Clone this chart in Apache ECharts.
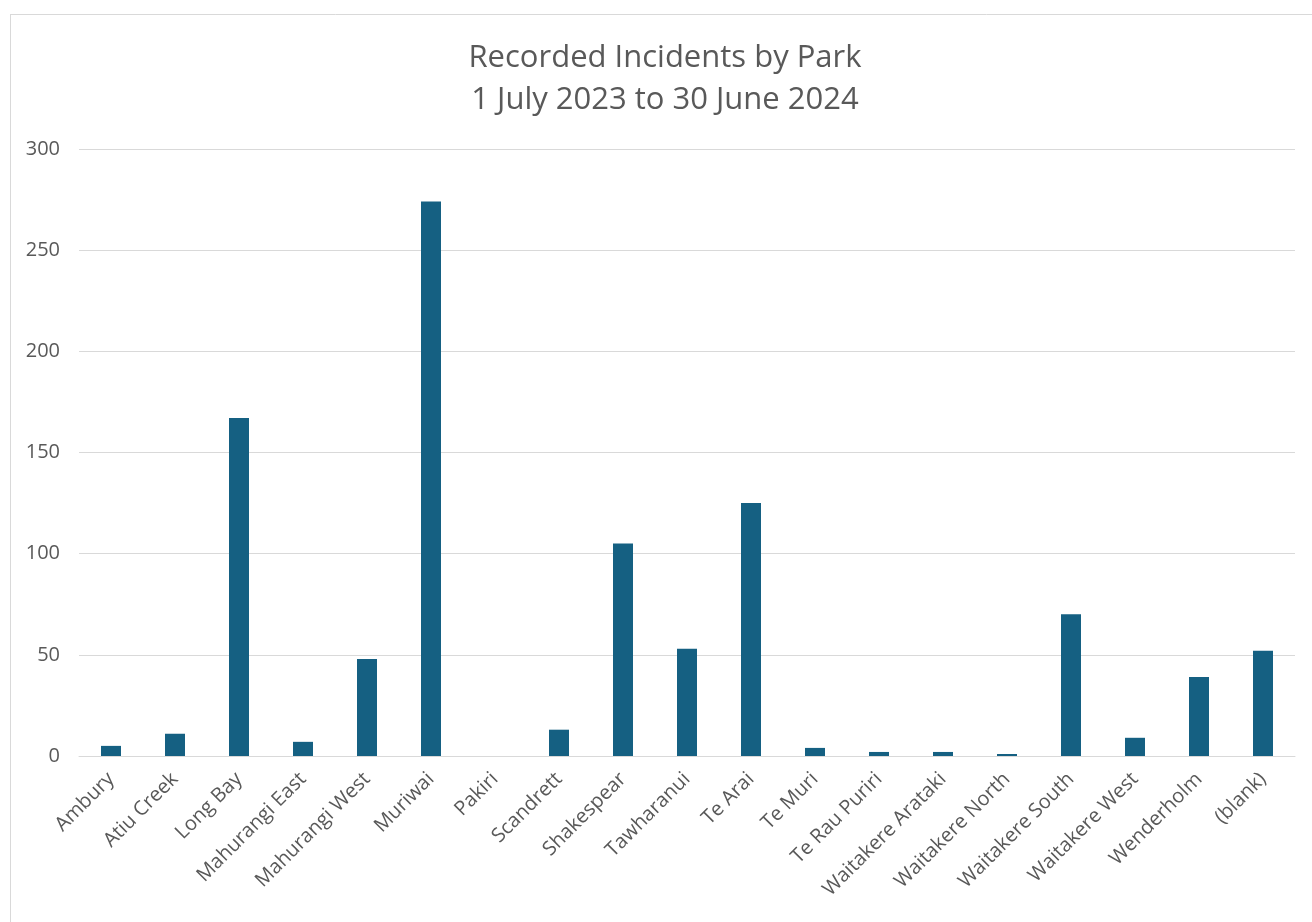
<!DOCTYPE html>
<html>
<head>
<meta charset="utf-8">
<script src="https://cdn.jsdelivr.net/npm/echarts@6/dist/echarts.min.js"></script>
<style>
html,body{margin:0;padding:0;background:#fff;}
#chart{width:1312px;height:922px;}
</style>
</head>
<body>
<div id="chart"></div>
<script>
const categories = ['Ambury','Atiu Creek','Long Bay','Mahurangi East','Mahurangi West','Muriwai','Pakiri','Scandrett','Shakespear','Tawharanui','Te Arai','Te Muri','Te Rau Puriri','Waitakere Arataki','Waitakere North','Waitakere South','Waitakere West','Wenderholm','(blank)'];
const incidents = [5, 11, 167, 7, 48, 274, 0, 13, 105, 53, 125, 4, 2, 2, 1, 70, 9, 39, 52];
const yTicks = [0, 50, 100, 150, 200, 250, 300];

const FONT = "'Open Sans', 'Liberation Sans', sans-serif";
const TEXT = '#595959';

const chart = echarts.init(document.getElementById('chart'), null, {renderer: 'canvas'});
chart.setOption({
  animation: false,
  backgroundColor: '#ffffff',
  textStyle: {fontFamily: FONT},
  title: {
    text: 'Recorded Incidents by Park\n1 July 2023 to 30 June 2024',
    left: 660,
    top: 32,
    textAlign: 'center',
    textStyle: {fontFamily: FONT, fontSize: 31, fontWeight: 'normal', color: TEXT, lineHeight: 42}
  },
  graphic: [
    {type: 'line', shape: {x1: 10, y1: 14.5, x2: 1312, y2: 14.5}, style: {stroke: '#d9d9d9', lineWidth: 1}},
    {type: 'line', shape: {x1: 10.5, y1: 14, x2: 10.5, y2: 922}, style: {stroke: '#d9d9d9', lineWidth: 1}}
  ],
  grid: {left: 79, right: 17, top: 149, bottom: 166, containLabel: false},
  xAxis: {
    type: 'category',
    data: categories,
    axisLine: {show: true, lineStyle: {color: '#d9d9d9', width: 1}},
    axisTick: {show: false},
    axisLabel: {interval: 0, rotate: 45, fontSize: 20, color: TEXT, margin: 20, fontFamily: FONT}
  },
  yAxis: {
    type: 'value',
    min: yTicks[0],
    max: yTicks[yTicks.length - 1],
    interval: yTicks[1] - yTicks[0],
    axisLine: {show: false},
    axisTick: {show: false},
    axisLabel: {fontSize: 20, color: TEXT, margin: 19, fontFamily: FONT},
    splitLine: {lineStyle: {color: '#d9d9d9', width: 1}}
  },
  series: [{
    type: 'bar',
    data: incidents,
    barWidth: 20,
    itemStyle: {color: '#156082'}
  }]
});
</script>
</body>
</html>
